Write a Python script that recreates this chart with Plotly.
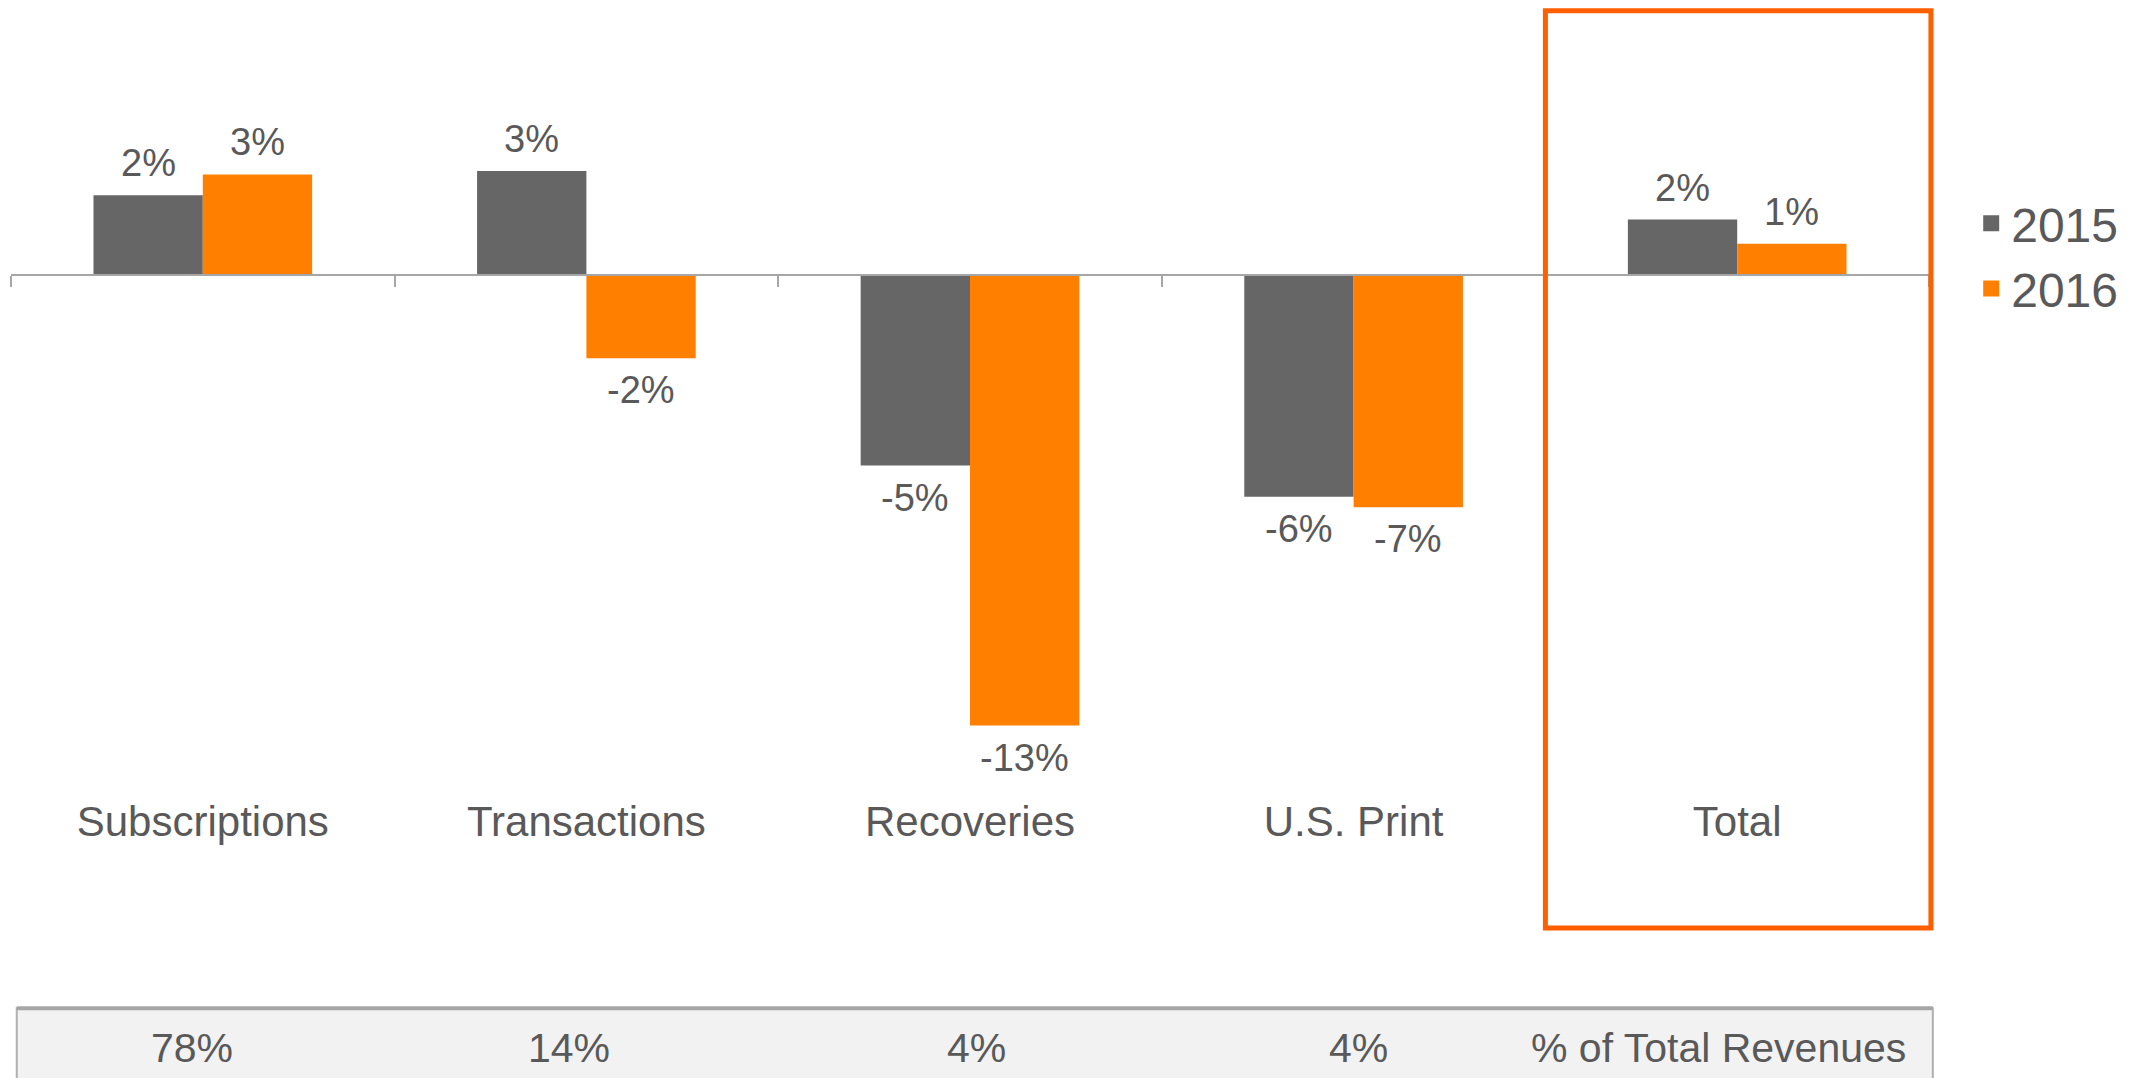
import plotly.graph_objects as go

categories = ["Subscriptions", "Transactions", "Recoveries", "U.S. Print", "Total"]
growth_2015 = [2.3, 3.0, -5.5, -6.4, 1.6]
growth_2016 = [2.9, -2.4, -13.0, -6.7, 0.9]
labels_2015 = ["2%", "3%", "-5%", "-6%", "2%"]
labels_2016 = ["3%", "-2%", "-13%", "-7%", "1%"]
revenue_share = ["78%", "14%", "4%", "4%"]
share_title = "% of Total Revenues"

FONT = "Liberation Sans, Arial, sans-serif"
TEXT = "#595959"
GRAY = "#666666"
ORANGE = "#FF8000"

y_min, y_max = -14.86, 6.78
zero_pos = (0 - y_min) / (y_max - y_min)
bargap = 0.43
half = (1 - bargap) / 4  # offset of each bar centre from the category centre
n = len(categories)

fig = go.Figure()
fig.add_trace(go.Bar(x=categories, y=growth_2015, name="2015", showlegend=False,
                     marker=dict(color=GRAY, line=dict(width=0))))
fig.add_trace(go.Bar(x=categories, y=growth_2016, name="2016", showlegend=False,
                     marker=dict(color=ORANGE, line=dict(width=0))))

# legend entries with bigger squares
for name, color in [("2015", GRAY), ("2016", ORANGE)]:
    fig.add_trace(go.Scatter(x=[None], y=[None], mode="markers", name=name,
                             marker=dict(symbol="square", size=21, color=color)))

# invisible trace so the zero-line axis gets drawn
fig.add_trace(go.Scatter(x=categories, y=[None] * n, xaxis="x2",
                         mode="markers", showlegend=False, hoverinfo="skip"))

# value labels
for vals, labs, dx in [(growth_2015, labels_2015, -half), (growth_2016, labels_2016, half)]:
    for i, (v, lab) in enumerate(zip(vals, labs)):
        fig.add_annotation(x=i + dx, y=v, xref="x", yref="y", text=lab, showarrow=False,
                           yanchor="middle", yshift=32 if v >= 0 else -32,
                           font=dict(size=38, color=TEXT, family=FONT))

# highlight box around the Total group
fig.add_shape(type="rect", xref="paper", yref="paper", x0=(n - 1) / n, x1=1.001,
              y0=-0.184, y1=1.039,
              line=dict(color="#FF5F00", width=5), fillcolor="rgba(0,0,0,0)")

# revenue share strip at the bottom
fig.add_shape(type="rect", xref="paper", yref="paper", x0=0.003, x1=1.002, y0=-0.42, y1=-0.291,
              line=dict(color="#b0b0b0", width=2), fillcolor="#f2f2f2", layer="below")
fig.add_shape(type="line", xref="paper", yref="paper", x0=0.003, x1=1.002, y0=-0.291, y1=-0.291,
              line=dict(color="#a6a6a6", width=4))
share_x = [-0.027, 0.955, 2.016, 3.0125]
for sx, share in zip(share_x, revenue_share):
    fig.add_annotation(x=sx, y=-0.344, xref="x", yref="paper", text=share,
                       showarrow=False, yanchor="middle", xanchor="center",
                       font=dict(size=41, color=TEXT, family=FONT))
fig.add_annotation(x=3.952, y=-0.344, xref="x", yref="paper", text=share_title,
                   showarrow=False, yanchor="middle", xanchor="center",
                   font=dict(size=41, color=TEXT, family=FONT))

fig.update_layout(
    width=2156, height=1078,
    margin=dict(l=3, r=235, t=32, b=296),
    plot_bgcolor="white", paper_bgcolor="white",
    barmode="group", bargap=bargap, bargroupgap=0,
    font=dict(family=FONT, color=TEXT),
    showlegend=True,
    legend=dict(x=1.022, y=0.806, xanchor="left", yanchor="top",
                font=dict(size=48, color=TEXT, family=FONT), itemsizing="trace",
                bgcolor="rgba(0,0,0,0)", itemwidth=30, tracegroupgap=0),
    xaxis=dict(range=[-0.5, 4.5], showline=False, showgrid=False, ticks="",
               tickfont=dict(size=42, color=TEXT, family=FONT), ticklabelstandoff=3),
    xaxis2=dict(overlaying="x", anchor="free", position=zero_pos, range=[-0.5, 4.5],
                showline=True, linecolor="#a6a6a6", linewidth=2,
                ticks="outside", tickson="boundaries", ticklen=11,
                tickcolor="#a6a6a6", tickwidth=2, showticklabels=False, showgrid=False,
                zeroline=False),
    yaxis=dict(range=[y_min, y_max], visible=False, showgrid=False, zeroline=False),
)

fig.write_html("out.html")
